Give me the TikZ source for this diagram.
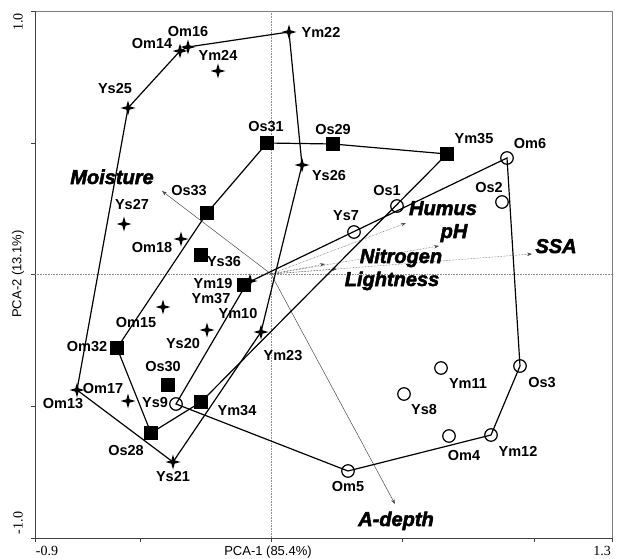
\documentclass[tikz,border=0pt]{standalone}
\usepackage{fontspec}
\setmainfont{Liberation Serif}
\newfontfamily\labfont{Liberation Sans}
\newfontfamily\vecfont{Liberation Sans}[BoldItalicFeatures={FakeBold=2.5}]
\usetikzlibrary{shapes.geometric,arrows.meta}
\tikzset{
  stm/.style={star, star points=4, star point ratio=3.2, minimum size=15pt, fill=black, inner sep=0pt, draw=none},
  sqm/.style={rectangle, minimum size=14pt, fill=black, inner sep=0pt, draw=none},
  cim/.style={circle, minimum size=12.5pt, draw=black, line width=1.2pt, inner sep=0pt},
  lab/.style={font=\labfont\bfseries\fontsize{14.5}{16}\selectfont, inner sep=0pt, anchor=center},
  veclab/.style={font=\vecfont\bfseries\itshape\fontsize{20}{22}\selectfont, inner sep=0pt, anchor=base},
  hull/.style={line width=1.2pt, black},
  vec/.style={line width=0.5pt, black!70, -{Stealth[length=5pt,width=3.5pt]}},
  vecdot/.style={vec, densely dotted},
  zeroline/.style={black!45, densely dotted, line width=0.6pt},
  axlab/.style={font=\labfont\fontsize{13}{15}\selectfont, inner sep=0pt},
  ticklab/.style={font=\fontsize{14}{16}\selectfont, inner sep=0pt}
}
\begin{document}
\begin{tikzpicture}[x=1pt,y=-1pt]
\useasboundingbox (0,0) rectangle (618,559);
% frame
\draw[black!50, line width=0.6pt] (35,11) -- (612,11) -- (612,538);
\draw[black!75, line width=0.8pt] (35,11) -- (35,538) -- (612,538);
\foreach \yy in {11,143,274,406,538} \draw[black!75, line width=0.8pt] (31,\yy) -- (35,\yy);
\foreach \xx in {35,140,271,402,534,612} \draw[black!75, line width=0.8pt] (\xx,538) -- (\xx,542);
\draw[zeroline] (271,11) -- (271,538);
\draw[zeroline] (35,274) -- (612,274);
% axis labels
\node[ticklab, rotate=90] (t10) at (18,22) {1.0};
\node[ticklab, rotate=90] (tm10) at (18,523) {-1.0};
\node[axlab, rotate=90] (ylab) at (18,274) {PCA-2 (13.1\%)};
\node[ticklab] (tm09) at (47,551) {-0.9};
\node[ticklab] (t13) at (602,551) {1.3};
\node[axlab] (xlab) at (268,552) {PCA-1 (85.4\%)};
% origin and vector tips
\coordinate (O) at (271,274);
\coordinate (vMoist) at (162,191);
\coordinate (vHum) at (406,223);
\coordinate (vpH) at (439,246);
\coordinate (vSSA) at (532,254);
\coordinate (vNit) at (325,264);
\coordinate (vLig) at (337,269);
\coordinate (vAd) at (395,504);
\coordinate (hc) at (247,283);
% markers: stars
\node[stm] (Om16) at (188,47) {};
\node[stm] (Om14) at (180,51) {};
\node[stm] (Ym24) at (218,71) {};
\node[stm] (Ys25) at (128,108) {};
\node[stm] (Ym22) at (289,32) {};
\node[stm] (Ys26) at (302,165) {};
\node[stm] (Ys27) at (124,224) {};
\node[stm] (Om18) at (181,239) {};
\node[stm] (Om15) at (163,307) {};
\node[stm] (Ys20) at (207,330) {};
\node[stm] (Ym23) at (261,332) {};
\node[stm] (Om13) at (77,390) {};
\node[stm] (Om17) at (128,401) {};
\node[stm] (Ys21) at (173,462) {};
\node[stm] (Ym37) at (250,281) {};
% squares
\node[sqm] (Os31) at (267,143) {};
\node[sqm] (Os29) at (333,144) {};
\node[sqm] (Ym35) at (447,154) {};
\node[sqm] (Os33) at (207,213) {};
\node[sqm] (Ys36) at (201,255) {};
\node[sqm] (Ym19) at (244,285) {};
\node[sqm] (Om32) at (117,348) {};
\node[sqm] (Os30) at (168,385) {};
\node[sqm] (Ym34) at (201,402) {};
\node[sqm] (Os28) at (151,433) {};
% circles
\node[cim] (Om6) at (507,158) {};
\node[cim] (Os2) at (502,202) {};
\node[cim] (Os1) at (397,206) {};
\node[cim] (Ys7) at (354,232) {};
\node[cim] (Os3) at (520,366) {};
\node[cim] (Ym11) at (441,368) {};
\node[cim] (Ys8) at (404,394) {};
\node[cim] (Om4) at (449,436) {};
\node[cim] (Ym12) at (491,435) {};
\node[cim] (Om5) at (348,471) {};
\node[cim] (Ys9) at (176,404) {};
% vectors
\draw[vec] (O) -- (vMoist);
\draw[vec] (O) -- (vAd);
\draw[vecdot] (O) -- (vHum);
\draw[vecdot] (O) -- (vpH);
\draw[vecdot] (O) -- (vSSA);
\draw[vecdot] (O) -- (vNit);
\draw[vecdot] (O) -- (vLig);
% hulls
\draw[hull] (Ys25.center) -- (Om14.center) -- (Om16.center) -- (Ym22.center) -- (Ys26.center) -- (Ym23.center) -- (Ys21.center) -- (Om13.center) -- cycle;
\draw[hull] (Os31.center) -- (Os29.center) -- (Ym35.center) -- (Ym34.center) -- (Os28.center) -- (Om32.center) -- (Os33.center) -- cycle;
\draw[hull] (Om6.center) -- (Os3.center) -- (Ym12.center) -- (Om5.center) -- (Ys9.center) -- (hc) -- cycle;
% labels
\node[lab] (lOm16) at (188,32) {Om16};
\node[lab] (lOm14) at (152,44) {Om14};
\node[lab] (lYm24) at (218,55) {Ym24};
\node[lab] (lYs25) at (115,89) {Ys25};
\node[lab] (lYm22) at (321,32) {Ym22};
\node[lab] (lOs31) at (266,127) {Os31};
\node[lab] (lOs29) at (333,130) {Os29};
\node[lab] (lYm35) at (474,139) {Ym35};
\node[lab] (lOm6) at (530,144) {Om6};
\node[lab] (lYs26) at (329,176) {Ys26};
\node[lab] (lOs1) at (387,191) {Os1};
\node[lab] (lOs2) at (489,188) {Os2};
\node[lab] (lOs33) at (189,191) {Os33};
\node[lab] (lYs7) at (346,216) {Ys7};
\node[lab] (lYs27) at (132,205) {Ys27};
\node[lab] (lOm18) at (152,248) {Om18};
\node[lab] (lYs36) at (224,262) {Ys36};
\node[lab] (lYm19) at (213,284) {Ym19};
\node[lab] (lYm37) at (211,299) {Ym37};
\node[lab] (lOm15) at (136,323) {Om15};
\node[lab] (lYm10) at (238,314) {Ym10};
\node[lab] (lYs20) at (183,344) {Ys20};
\node[lab] (lOm32) at (87,347) {Om32};
\node[lab] (lYm23) at (283,356) {Ym23};
\node[lab] (lOs30) at (163,367) {Os30};
\node[lab] (lYm11) at (468,384) {Ym11};
\node[lab] (lOs3) at (542,383) {Os3};
\node[lab] (lOm17) at (103,389) {Om17};
\node[lab] (lOm13) at (63,404) {Om13};
\node[lab] (lYs9) at (155,403) {Ys9};
\node[lab] (lYm34) at (237,411) {Ym34};
\node[lab] (lYs8) at (424,410) {Ys8};
\node[lab] (lOm4) at (464,456) {Om4};
\node[lab] (lYm12) at (518,451) {Ym12};
\node[lab] (lOs28) at (126,451) {Os28};
\node[lab] (lYs21) at (173,477) {Ys21};
\node[lab] (lOm5) at (348,487) {Om5};
% vector labels
\node[veclab] (lMoist) at (112,184) {Moisture};
\node[veclab] (lHum) at (443,215) {Humus};
\node[veclab] (lpH) at (454,238) {pH};
\node[veclab] (lSSA) at (556,253) {SSA};
\node[veclab] (lNit) at (401,263) {Nitrogen};
\node[veclab] (lLig) at (392,286) {Lightness};
\node[veclab] (lAd) at (396,526) {A-depth};
\end{tikzpicture}
\end{document}
